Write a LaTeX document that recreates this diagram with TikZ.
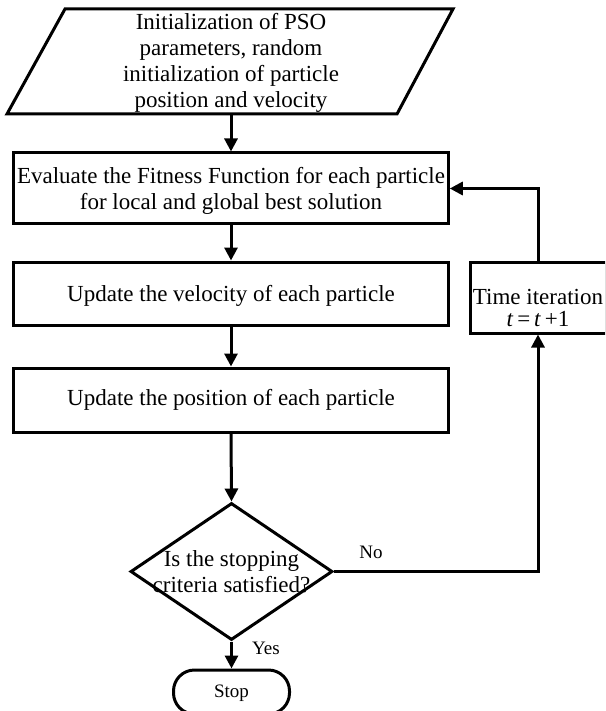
\documentclass[tikz,border=0pt]{standalone}
\usepackage{fontspec}
\setmainfont{Liberation Serif}
\usetikzlibrary{shapes.geometric,arrows.meta,calc}
\begin{document}
\begin{tikzpicture}[x=1pt,y=-1pt,
  line width=3pt,
  box/.style={draw, rectangle, minimum width=434.5pt, inner sep=0pt, align=center, font=\fontsize{23}{26}\selectfont},
  txt/.style={align=center, inner sep=0pt, font=\fontsize{23}{26}\selectfont},
  lbl/.style={inner sep=0pt, font=\fontsize{19}{21}\selectfont},
  arr/.style={-{Triangle[length=13pt,width=13pt]}, line width=3pt},
]
\useasboundingbox (0,0) rectangle (605,711);
\fill[white] (0,0) rectangle (605,711);
\clip (0,0) rectangle (605,711);

% start (parallelogram)
\node[minimum width=390pt, minimum height=105pt, inner sep=0pt] (init) at (231,61.5) {};
\draw (65,9) -- (453,9) -- (397,114) -- (7,114) -- cycle;
\node[txt] (inittxt) at (231,63) {Initialization of PSO\\parameters, random\\initialization of particle\\position and velocity};

% process boxes
\node[box, minimum height=70pt] (eval) at (231,188) {};
\node[txt] (evaltxt) at (231,190.5) {Evaluate the Fitness Function for each particle\\for local and global best solution};
\node[box, minimum height=63pt] (vel) at (231,293.5) {};
\node[txt] (veltxt) at (231,295.5) {Update the velocity of each particle};
\node[box, minimum height=64pt] (pos) at (231,400) {};
\node[txt] (postxt) at (231,400) {Update the position of each particle};

% decision
\node[draw, diamond, minimum width=202pt, minimum height=137pt, inner sep=0pt] (dec) at (231.5,571.5) {};
\node[txt] (dectxt) at (dec) {Is the stopping\\criteria satisfied?};

% stop terminal
\node[draw, rectangle, rounded corners=21pt, minimum width=116pt, minimum height=44pt] (stop) at (231.5,692) {};
\node[lbl] (stoptxt) at (231.5,693) {Stop};

% time iteration
\node[draw, rectangle, minimum width=136pt, minimum height=71pt] (time) at (538,297.5) {};
\node[txt, font=\fontsize{23}{21.5}\selectfont] (timetxt) at (538,308) {Time iteration\\\textit{t}\,=\,\textit{t}\,+1};

\coordinate (cn) at (538,571.5);
\coordinate (ct) at (538,188.5);

\draw[arr] (init.south) -- (eval.north);
\draw[arr] (eval.south) -- (vel.north);
\draw[arr] (vel.south) -- (pos.north);
\draw[arr] (pos.south) -- (dec.north);
\draw[arr] (dec.south) -- (stop.north);
\draw[arr] (dec.east) -- (cn) -- (cn |- time.south);
\draw[arr] (time.north -| ct) -- (ct) -- (ct -| eval.east);

\node[lbl] (yes) at (266,648) {Yes};
\node[lbl] (no) at (371,552) {No};
\end{tikzpicture}
\end{document}
